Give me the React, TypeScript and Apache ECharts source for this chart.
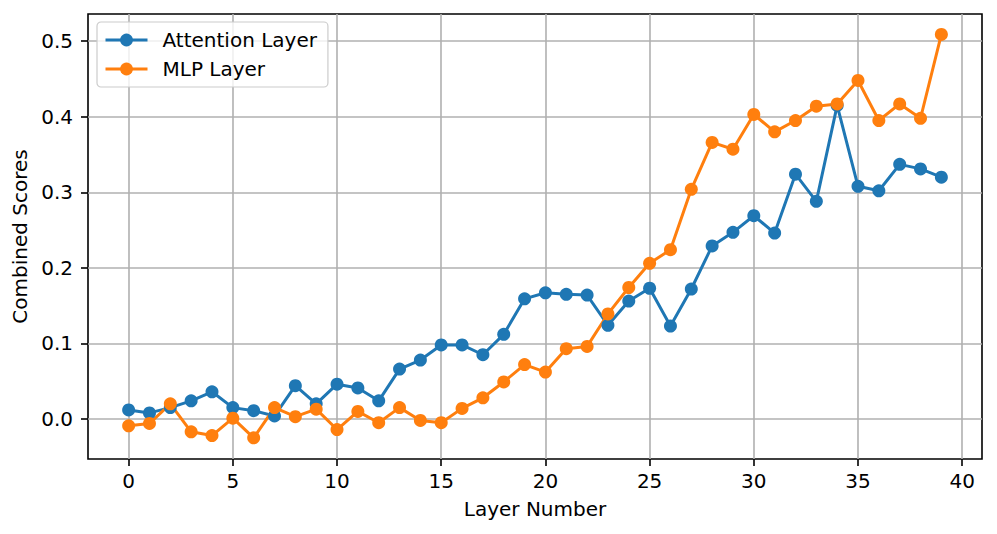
import React, { useEffect, useRef } from "react";
import * as echarts from "echarts";

const layers: number[] = Array.from({ length: 40 }, (_, i) => i);

const attentionScores: number[] = [
  0.012, 0.008, 0.015, 0.024, 0.036, 0.015, 0.011, 0.004, 0.044, 0.020,
  0.046, 0.041, 0.024, 0.066, 0.078, 0.098, 0.098, 0.085, 0.112, 0.159,
  0.167, 0.165, 0.164, 0.124, 0.156, 0.173, 0.123, 0.172, 0.229, 0.247,
  0.269, 0.246, 0.324, 0.288, 0.415, 0.308, 0.302, 0.337, 0.331, 0.320,
];

const mlpScores: number[] = [
  -0.009, -0.006, 0.020, -0.017, -0.022, 0.001, -0.025, 0.015, 0.003, 0.013,
  -0.014, 0.010, -0.005, 0.015, -0.002, -0.005, 0.014, 0.028, 0.049, 0.072,
  0.062, 0.093, 0.096, 0.139, 0.174, 0.206, 0.224, 0.304, 0.366, 0.357,
  0.403, 0.380, 0.395, 0.414, 0.417, 0.448, 0.395, 0.417, 0.398, 0.509,
];

const xTicks: number[] = [0, 5, 10, 15, 20, 25, 30, 35, 40];
const yTicks: number[] = [0, 0.1, 0.2, 0.3, 0.4, 0.5];

const FONT = "DejaVu Sans";

export default function App() {
  const ref = useRef<HTMLDivElement>(null);
  useEffect(() => {
    if (!ref.current) return;
    const chart = echarts.init(ref.current, undefined, { renderer: "svg" });
    const mk = (vals: number[]) => layers.map((x, i) => [x, vals[i]]);
    chart.setOption({
      animation: false,
      backgroundColor: "#ffffff",
      textStyle: { fontFamily: FONT },
      grid: {
        left: 88,
        right: 15,
        top: 14,
        bottom: 75,
        show: true,
        borderColor: "#000000",
        borderWidth: 1.6,
        backgroundColor: "transparent",
      },
      legend: {
        orient: "vertical",
        left: 97,
        top: 22,
        padding: [8, 11, 8, 7],
        itemWidth: 42,
        itemHeight: 16,
        itemGap: 9,
        backgroundColor: "rgba(255,255,255,0.8)",
        borderColor: "#cccccc",
        borderWidth: 1.2,
        borderRadius: 4,
        lineStyle: { width: 3 },
        textStyle: {
          fontFamily: FONT,
          fontSize: 20,
          color: "#000000",
          padding: [0, 0, 0, 10],
        },
        data: ["Attention Layer", "MLP Layer"],
      },
      xAxis: {
        type: "value",
        min: -1.95,
        max: 40.95,
        name: "Layer Number",
        nameLocation: "middle",
        nameGap: 40,
        nameTextStyle: { fontFamily: FONT, fontSize: 20, color: "#000000" },
        axisLine: { show: false, onZero: false },
        axisTick: {
          show: true,
          length: 7,
          lineStyle: { color: "#000000", width: 1.6 },
          customValues: xTicks,
        },
        axisLabel: {
          fontFamily: FONT,
          fontSize: 20,
          color: "#000000",
          margin: 12,
          customValues: xTicks,
          formatter: (v: number) => String(v),
        },
        splitLine: { show: true, lineStyle: { color: "#b0b0b0", width: 1.6 } },
      },
      yAxis: {
        type: "value",
        min: -0.053,
        max: 0.536,
        name: "Combined Scores",
        nameLocation: "middle",
        nameGap: 56,
        nameTextStyle: { fontFamily: FONT, fontSize: 20, color: "#000000" },
        axisLine: { show: false, onZero: false },
        axisTick: {
          show: true,
          length: 7,
          lineStyle: { color: "#000000", width: 1.6 },
          customValues: yTicks,
        },
        axisLabel: {
          fontFamily: FONT,
          fontSize: 20,
          color: "#000000",
          margin: 15,
          customValues: yTicks,
          formatter: (v: number) => v.toFixed(1),
        },
        splitLine: { show: true, lineStyle: { color: "#b0b0b0", width: 1.6 } },
      },
      series: [
        {
          name: "Attention Layer",
          type: "line",
          data: mk(attentionScores),
          symbol: "circle",
          symbolSize: 13,
          showAllSymbol: true,
          color: "#1f77b4",
          lineStyle: { width: 3, color: "#1f77b4" },
          itemStyle: { color: "#1f77b4" },
        },
        {
          name: "MLP Layer",
          type: "line",
          data: mk(mlpScores),
          symbol: "circle",
          symbolSize: 13,
          showAllSymbol: true,
          color: "#ff7f0e",
          lineStyle: { width: 3, color: "#ff7f0e" },
          itemStyle: { color: "#ff7f0e" },
        },
      ],
    });
    return () => chart.dispose();
  }, []);
  return (
    <div
      ref={ref}
      style={{ position: "absolute", left: 0, top: 0, width: 997, height: 534 }}
    />
  );
}
